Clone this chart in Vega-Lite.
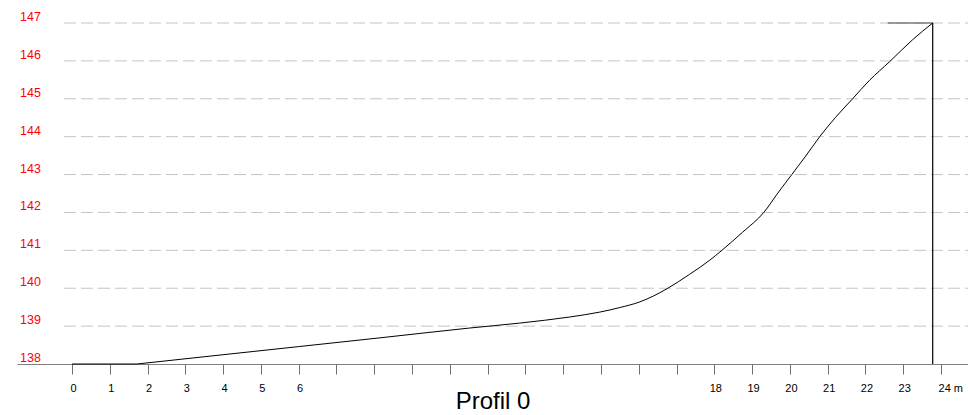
{
  "$schema": "https://vega.github.io/schema/vega-lite/v6.json",
  "autosize": {"type": "none"},
  "width": 951,
  "height": 341,
  "padding": {"left": 17, "top": 23, "right": 0, "bottom": 51},
  "background": "white",
  "config": {
    "view": {"stroke": null},
    "font": "Liberation Sans"
  },
  "datasets": {
    "profile": [
      {"part": "flat", "dist": 0, "elev": 138.0},
      {"part": "flat", "dist": 1.72, "elev": 138.0},
      {"part": "slope", "dist": 1.72, "elev": 138.0},
      {"part": "slope", "dist": 4.0, "elev": 138.245},
      {"part": "slope", "dist": 6.0, "elev": 138.459},
      {"part": "slope", "dist": 8.15, "elev": 138.69},
      {"part": "slope", "dist": 10.53, "elev": 138.95},
      {"part": "slope", "dist": 11.85, "elev": 139.08},
      {"part": "slope", "dist": 13.17, "elev": 139.24},
      {"part": "slope", "dist": 13.97, "elev": 139.37},
      {"part": "slope", "dist": 14.5, "elev": 139.49},
      {"part": "slope", "dist": 15.03, "elev": 139.64},
      {"part": "slope", "dist": 15.4, "elev": 139.8},
      {"part": "slope", "dist": 15.77, "elev": 140.0},
      {"part": "slope", "dist": 16.35, "elev": 140.37},
      {"part": "slope", "dist": 16.88, "elev": 140.74},
      {"part": "slope", "dist": 17.2, "elev": 141.0},
      {"part": "slope", "dist": 17.75, "elev": 141.48},
      {"part": "slope", "dist": 18.31, "elev": 142.0},
      {"part": "slope", "dist": 18.68, "elev": 142.51},
      {"part": "slope", "dist": 19.05, "elev": 143.0},
      {"part": "slope", "dist": 19.42, "elev": 143.49},
      {"part": "slope", "dist": 19.79, "elev": 144.0},
      {"part": "slope", "dist": 20.2, "elev": 144.5},
      {"part": "slope", "dist": 20.66, "elev": 145.0},
      {"part": "slope", "dist": 21.11, "elev": 145.49},
      {"part": "slope", "dist": 21.64, "elev": 145.98},
      {"part": "slope", "dist": 22.25, "elev": 146.56},
      {"part": "slope", "dist": 22.78, "elev": 147.0}
    ],
    "grid": [
      {"level": 139, "from": -0.212, "to": 23.714},
      {"level": 140, "from": -0.212, "to": 23.714},
      {"level": 141, "from": -0.212, "to": 23.714},
      {"level": 142, "from": -0.212, "to": 23.714},
      {"level": 143, "from": -0.212, "to": 23.714},
      {"level": 144, "from": -0.212, "to": 23.714},
      {"level": 145, "from": -0.212, "to": 23.714},
      {"level": 146, "from": -0.212, "to": 23.714},
      {"level": 147, "from": -0.212, "to": 23.714}
    ],
    "ylabels": [
      {"level": 138, "label": "138"},
      {"level": 139, "label": "139"},
      {"level": 140, "label": "140"},
      {"level": 141, "label": "141"},
      {"level": 142, "label": "142"},
      {"level": 143, "label": "143"},
      {"level": 144, "label": "144"},
      {"level": 145, "label": "145"},
      {"level": 146, "label": "146"},
      {"level": 147, "label": "147"}
    ],
    "top": [{"x1": 21.59, "x2": 22.78, "elev": 147}],
    "edge": [{"dist": 22.78, "low": 138, "high": 147}]
  },
  "layer": [
    {
      "data": {"name": "grid"},
      "mark": {"type": "rule", "color": "#c4c4c4", "strokeWidth": 1, "strokeDash": [12, 5]},
      "encoding": {
        "x": {
          "field": "from", "type": "quantitative",
          "scale": {"domain": [-1.455, 23.714], "nice": false, "zero": false},
          "axis": {
            "values": [0,1,2,3,4,5,6,7,8,9,10,11,12,13,14,15,16,17,18,19,20,21,22,23],
            "format": "d",
            "labelExpr": "datum.value <= 6 ? datum.label : (datum.value >= 17 && datum.value <= 22 ? toString(datum.value + 1) : (datum.value == 23 ? '24 m' : ''))",
            "labelAlign": {"condition": {"test": "datum.value == 23", "value": "left"}, "value": "center"},
            "labelOffset": {"condition": {"test": "datum.value == 23", "value": -3}, "value": 1},
            "labelFontSize": 11,
            "labelColor": "black",
            "labelFont": "Liberation Sans",
            "labelPadding": 8,
            "labelOverlap": false,
            "labelFlush": false,
            "tickSize": 10,
            "tickColor": "#707070",
            "tickWidth": 1,
            "domainColor": "#808080",
            "domainWidth": 1,
            "grid": false,
            "title": "Profil 0",
            "titleFont": "Liberation Sans",
            "titleFontSize": 24,
            "titleFontWeight": "normal",
            "titleColor": "black",
            "titleBaseline": "alphabetic",
            "titleY": 44
          }
        },
        "x2": {"field": "to"},
        "y": {
          "field": "level", "type": "quantitative",
          "scale": {"domain": [138, 147], "nice": false, "zero": false},
          "axis": {
            "labels": false,
            "domain": false,
            "ticks": false,
            "grid": false,
            "title": null
          }
        }
      }
    },
    {
      "data": {"name": "ylabels"},
      "mark": {"type": "text", "align": "left", "baseline": "alphabetic", "dx": 3, "dy": -2, "color": "#ff0000", "fontSize": 12.5, "font": "Liberation Sans"},
      "encoding": {
        "x": {"datum": -1.455, "type": "quantitative"},
        "y": {"field": "level", "type": "quantitative"},
        "text": {"field": "label"}
      }
    },
    {
      "data": {"name": "top"},
      "mark": {"type": "rule", "color": "#7a7a7a", "strokeWidth": 1.5},
      "encoding": {
        "x": {"field": "x1", "type": "quantitative"},
        "x2": {"field": "x2"},
        "y": {"field": "elev", "type": "quantitative"}
      }
    },
    {
      "data": {"name": "profile"},
      "mark": {"type": "line", "color": "black", "strokeWidth": 1, "interpolate": "monotone"},
      "encoding": {
        "x": {"field": "dist", "type": "quantitative"},
        "y": {"field": "elev", "type": "quantitative"},
        "detail": {"field": "part", "type": "nominal"}
      }
    },
    {
      "data": {"name": "edge"},
      "mark": {"type": "rule", "color": "black", "strokeWidth": 1.2},
      "encoding": {
        "x": {"field": "dist", "type": "quantitative"},
        "y": {"field": "low", "type": "quantitative"},
        "y2": {"field": "high"}
      }
    }
  ]
}
